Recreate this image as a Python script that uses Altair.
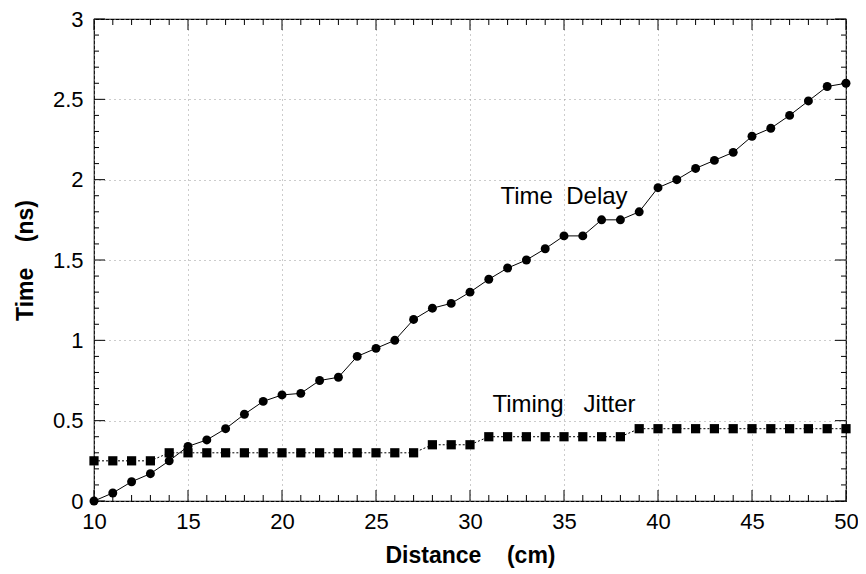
import altair as alt
import pandas as pd

# ---- data ----
distance = list(range(10, 51))
time_delay = [0.00, 0.05, 0.12, 0.17, 0.25, 0.34, 0.38, 0.45, 0.54, 0.62,
              0.66, 0.67, 0.75, 0.77, 0.90, 0.95, 1.00, 1.13, 1.20, 1.23,
              1.30, 1.38, 1.45, 1.50, 1.57, 1.65, 1.65, 1.75, 1.75, 1.80,
              1.95, 2.00, 2.07, 2.12, 2.17, 2.27, 2.32, 2.40, 2.49, 2.58,
              2.60]
timing_jitter = [0.25, 0.25, 0.25, 0.25,
                 0.30, 0.30, 0.30, 0.30, 0.30, 0.30, 0.30, 0.30, 0.30, 0.30,
                 0.30, 0.30, 0.30, 0.30,
                 0.35, 0.35, 0.35,
                 0.40, 0.40, 0.40, 0.40, 0.40, 0.40, 0.40, 0.40,
                 0.45, 0.45, 0.45, 0.45, 0.45, 0.45, 0.45, 0.45, 0.45, 0.45,
                 0.45, 0.45]

x_major = [10, 15, 20, 25, 30, 35, 40, 45, 50]
x_minor = [v for v in range(10, 51) if v % 5 != 0]
y_major = [0, 0.5, 1, 1.5, 2, 2.5, 3]
y_minor = [round(i * 0.1, 1) for i in range(0, 31) if i % 5 != 0]

label_text = ["Time\u00a0\u00a0Delay", "Timing\u00a0\u00a0\u00a0Jitter"]
label_x = [35.0, 35.0]
label_y = [1.895, 0.60]

W, H = 752, 482
FONT = "Liberation Sans"

delay_df = pd.DataFrame({"x": distance, "y": time_delay})
jitter_df = pd.DataFrame({"x": distance, "y": timing_jitter})
text_df = pd.DataFrame({"x": label_x, "y": label_y, "t": label_text})

X = alt.X("x:Q", scale=alt.Scale(domain=[10, 50], nice=False, zero=False),
          axis=alt.Axis(values=x_major,
                        title="Distance\u00a0\u00a0\u00a0\u00a0(cm)",
                        labelPadding=10, titlePadding=12, format="d",
                        labelFlush=False))
Y = alt.Y("y:Q", scale=alt.Scale(domain=[0, 3], nice=False),
          axis=alt.Axis(values=y_major,
                        title="Time\u00a0\u00a0\u00a0\u00a0(ns)",
                        labelPadding=11, titlePadding=15, format=".1~f",
                        labelFlush=False))

delay_line = alt.Chart(delay_df).mark_line(color="black", strokeWidth=1).encode(x=X, y=Y)
delay_pts = alt.Chart(delay_df).mark_point(shape="circle", filled=True, color="black",
                                           size=80, opacity=1).encode(x=X, y=Y)
jitter_line = alt.Chart(jitter_df).mark_line(color="black", strokeWidth=1,
                                             strokeDash=[2, 2]).encode(x=X, y=Y)
jitter_pts = alt.Chart(jitter_df).mark_point(shape="square", filled=True, color="black",
                                             size=85, opacity=1).encode(x=X, y=Y)

texts = alt.Chart(text_df).mark_text(font=FONT, fontSize=24, color="black",
                                     align="center", baseline="middle").encode(
    x=X, y=Y, text="t:N")


def xticks(vals, length):
    d = pd.DataFrame({"x": vals})
    b = alt.Chart(d).mark_rule(color="black", strokeWidth=1)
    bottom = b.encode(x=X, y=alt.value(H), y2=alt.value(H - length))
    top = b.encode(x=X, y=alt.value(0), y2=alt.value(length))
    return [bottom, top]


def yticks(vals, length):
    d = pd.DataFrame({"y": vals})
    b = alt.Chart(d).mark_rule(color="black", strokeWidth=1)
    left = b.encode(y=Y, x=alt.value(0), x2=alt.value(length))
    right = b.encode(y=Y, x=alt.value(W - length), x2=alt.value(W))
    return [left, right]


layers = [delay_line, delay_pts, jitter_line, jitter_pts, texts]
layers += xticks(x_major, 11) + xticks(x_minor, 6)
layers += yticks(y_major, 11) + yticks(y_minor, 5)

chart = alt.layer(*layers).properties(
    width=W, height=H,
    autosize=alt.AutoSizeParams(type="none"),
    padding={"left": 86, "top": 11, "right": 12, "bottom": 72},
).configure_axis(
    labelFont=FONT, labelFontSize=22, labelColor="black",
    titleFont=FONT, titleFontSize=23, titleFontWeight="bold", titleColor="black",
    grid=True, gridColor="#999999", gridDash=[1, 4], gridWidth=1,
    ticks=False, domain=False,
).configure_view(stroke="black", strokeWidth=1.2)

chart.save("out.html", embed_options={"renderer": "svg", "actions": False})
